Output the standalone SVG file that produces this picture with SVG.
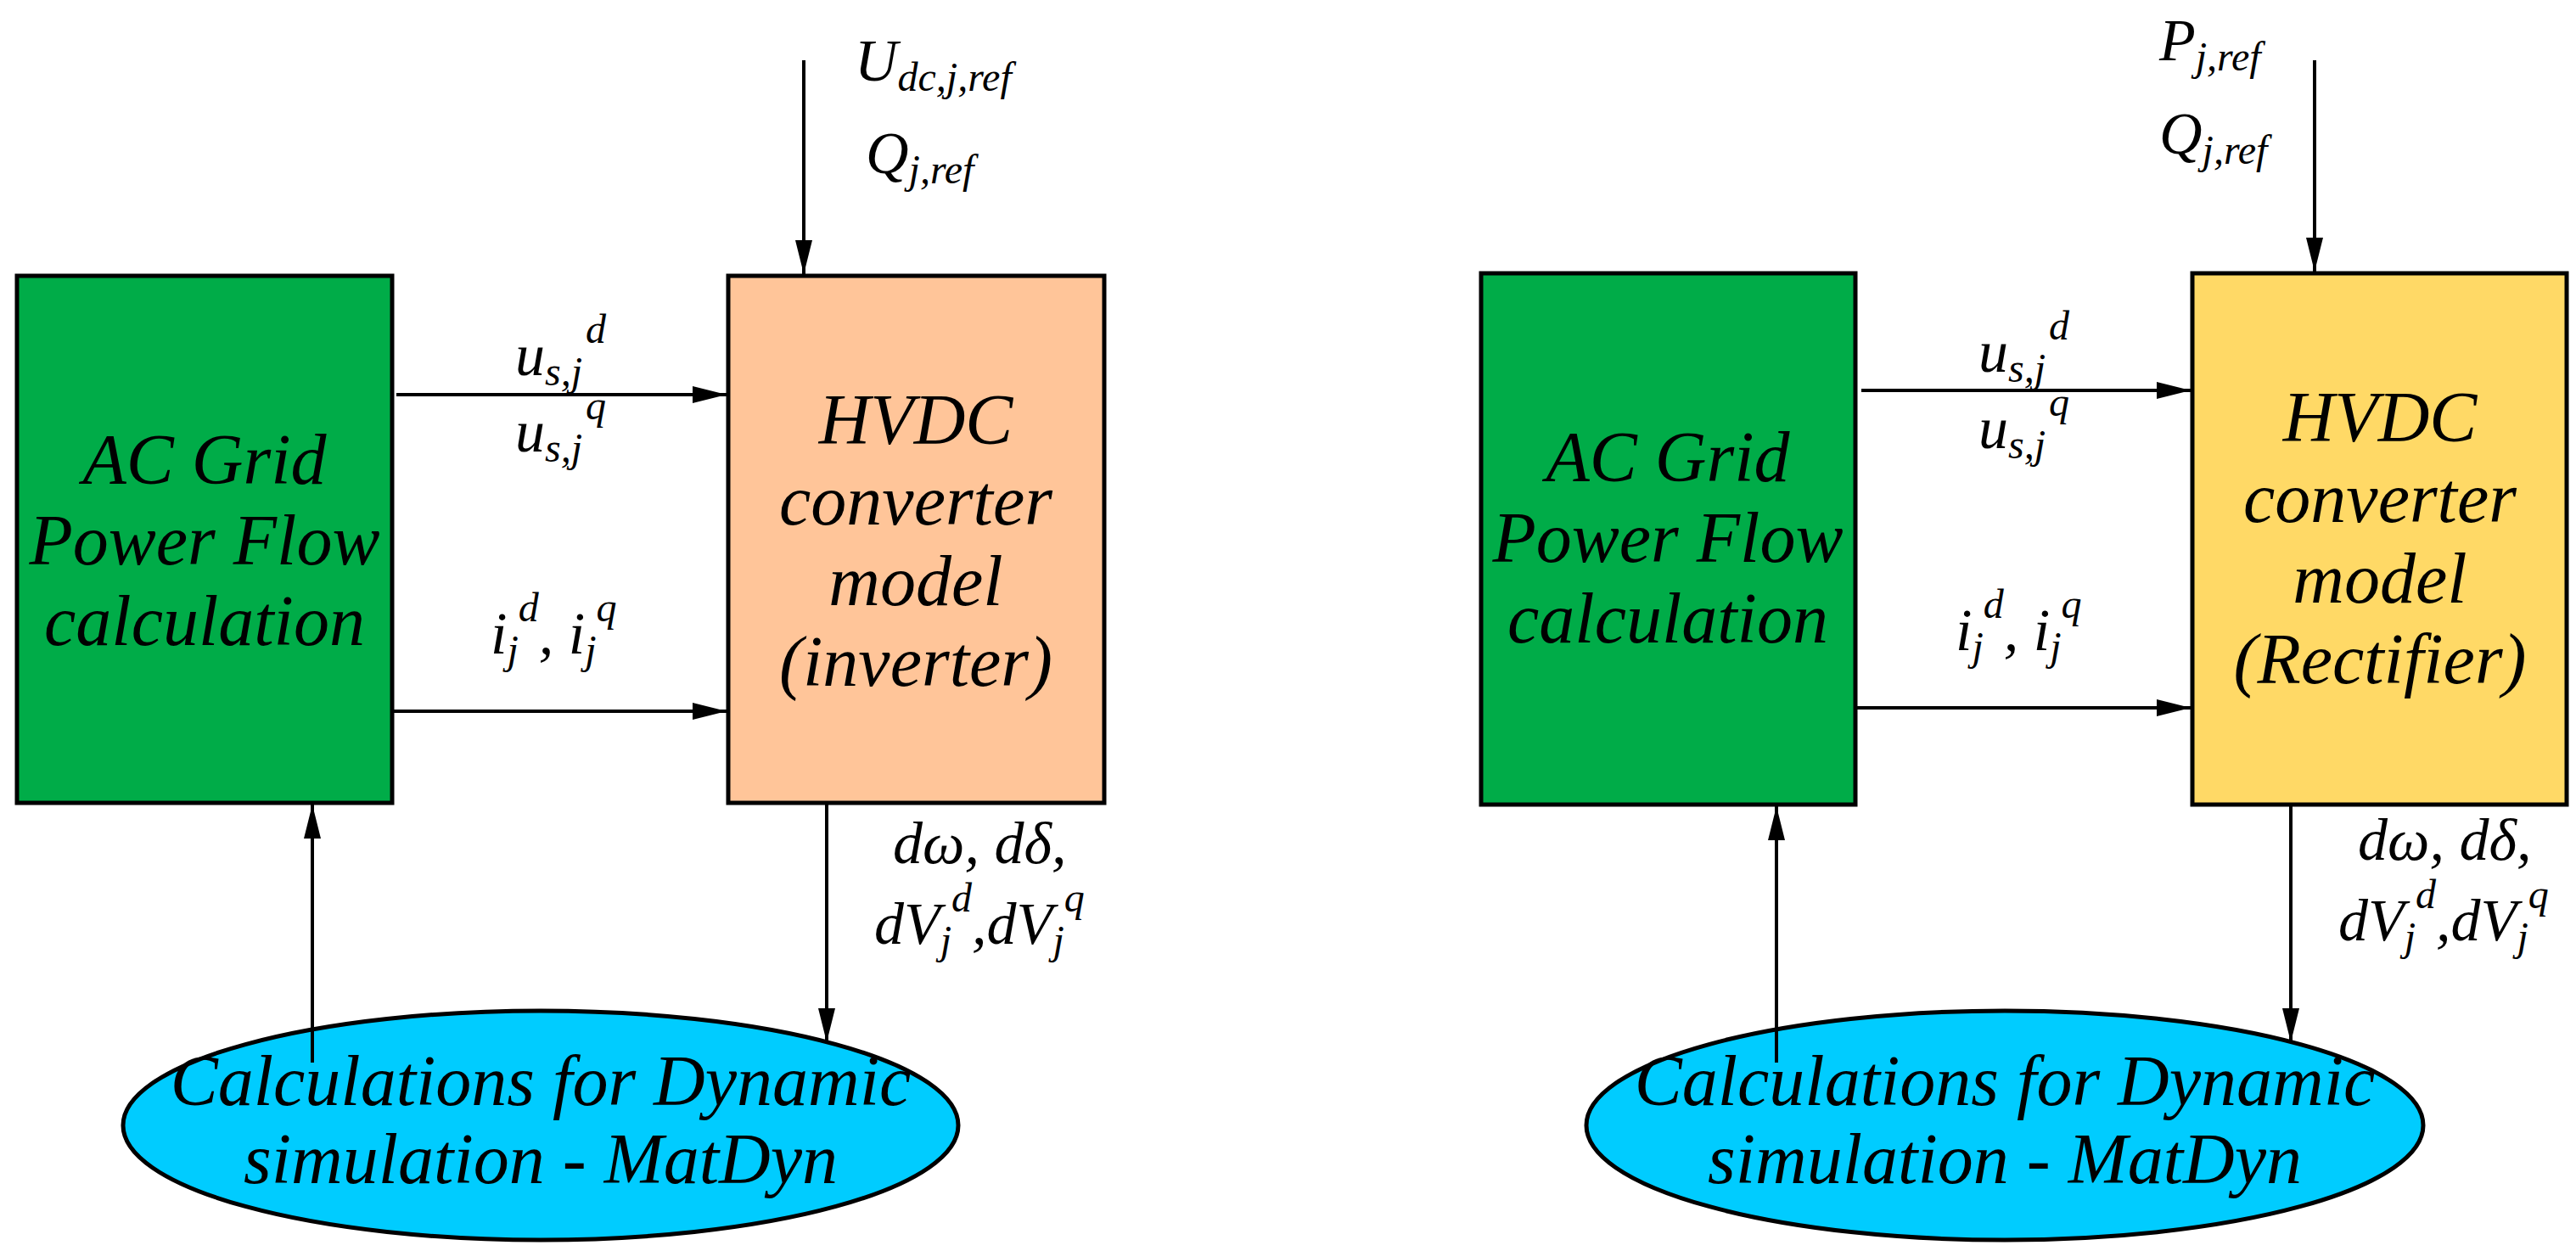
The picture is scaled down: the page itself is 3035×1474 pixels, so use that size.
<svg xmlns="http://www.w3.org/2000/svg" width="3035" height="1474" viewBox="0 0 3035 1474">
<style>
text{font-family:"Liberation Serif","Times New Roman",serif;font-style:italic;fill:#000}
.big{font-size:84px}
.lbl{font-size:70px}
.sub{font-size:48px}
.box{stroke:#000;stroke-width:5}
.ln{stroke:#000;stroke-width:4;fill:none}
</style>
<defs>
<marker id="ah" viewBox="0 0 40 20" refX="40" refY="10" markerWidth="40" markerHeight="20" markerUnits="userSpaceOnUse" orient="auto"><path d="M0,0L40,10L0,20z" fill="#000"/></marker>
</defs>
<g id="acgrid1"><rect class="box" x="20" y="325" width="442" height="621" fill="#00AC48"/>
<text class="big" text-anchor="middle"><tspan x="241" y="570">AC Grid</tspan><tspan x="241" y="665">Power Flow</tspan><tspan x="241" y="760">calculation</tspan></text></g>
<g id="hvdc1"><rect class="box" x="858" y="325" width="443" height="621" fill="#FFC599"/>
<text class="big" text-anchor="middle"><tspan x="1079" y="523">HVDC</tspan><tspan x="1079" y="618">converter</tspan><tspan x="1079" y="713">model</tspan><tspan x="1079" y="808">(inverter)</tspan></text></g>
<g id="dyn1"><ellipse class="box" cx="637" cy="1326" rx="492" ry="135" fill="#00CCFF"/>
<text class="big" text-anchor="middle"><tspan x="637" y="1302">Calculations for Dynamic</tspan><tspan x="637" y="1394">simulation - MatDyn</tspan></text></g>
<g id="acgrid2"><rect class="box" x="1745" y="322" width="441" height="626" fill="#00AC48"/>
<text class="big" text-anchor="middle"><tspan x="1965" y="567">AC Grid</tspan><tspan x="1965" y="662">Power Flow</tspan><tspan x="1965" y="757">calculation</tspan></text></g>
<g id="hvdc2"><rect class="box" x="2583" y="322" width="441" height="626" fill="#FFD966"/>
<text class="big" text-anchor="middle"><tspan x="2804" y="520">HVDC</tspan><tspan x="2804" y="615">converter</tspan><tspan x="2804" y="710">model</tspan><tspan x="2804" y="805">(Rectifier)</tspan></text></g>
<g id="dyn2"><ellipse class="box" cx="2362" cy="1326" rx="493" ry="135" fill="#00CCFF"/>
<text class="big" text-anchor="middle"><tspan x="2362" y="1302">Calculations for Dynamic</tspan><tspan x="2362" y="1394">simulation - MatDyn</tspan></text></g>
<g id="connectors">
<line class="ln" x1="947" y1="71" x2="947" y2="323" marker-end="url(#ah)"/>
<line class="ln" x1="467" y1="465" x2="856" y2="465" marker-end="url(#ah)"/>
<line class="ln" x1="462" y1="838" x2="856" y2="838" marker-end="url(#ah)"/>
<line class="ln" x1="368" y1="1252" x2="368" y2="948" marker-end="url(#ah)"/>
<line class="ln" x1="974" y1="946" x2="974" y2="1228" marker-end="url(#ah)"/>
<line class="ln" x1="2727" y1="71" x2="2727" y2="320" marker-end="url(#ah)"/>
<line class="ln" x1="2193" y1="460" x2="2581" y2="460" marker-end="url(#ah)"/>
<line class="ln" x1="2186" y1="834" x2="2581" y2="834" marker-end="url(#ah)"/>
<line class="ln" x1="2093" y1="1252" x2="2093" y2="950" marker-end="url(#ah)"/>
<line class="ln" x1="2699" y1="948" x2="2699" y2="1228" marker-end="url(#ah)"/>
</g>
<g id="labels">
<text class="lbl" x="1007" y="95">U<tspan class="sub" dy="12">dc,j,ref</tspan></text>
<text class="lbl" x="1020" y="204">Q<tspan class="sub" dy="12">j,ref</tspan></text>
<text class="lbl" x="607" y="442">u<tspan class="sub" dy="12">s,j</tspan><tspan class="sub" dy="-50" dx="4">d</tspan></text>
<text class="lbl" x="607" y="532">u<tspan class="sub" dy="12">s,j</tspan><tspan class="sub" dy="-50" dx="4">q</tspan></text>
<text class="lbl" x="578" y="770">i<tspan class="sub" dy="12">j</tspan><tspan class="sub" dy="-50">d</tspan><tspan dy="38">, i</tspan><tspan class="sub" dy="12">j</tspan><tspan class="sub" dy="-50">q</tspan></text>
<text class="lbl" x="1052" y="1017">dω, dδ,</text>
<text class="lbl" x="1030" y="1112">dV<tspan class="sub" dy="12">j</tspan><tspan class="sub" dy="-50">d</tspan><tspan dy="38">,dV</tspan><tspan class="sub" dy="12">j</tspan><tspan class="sub" dy="-50">q</tspan></text>
<text class="lbl" x="2544" y="71">P<tspan class="sub" dy="12">j,ref</tspan></text>
<text class="lbl" x="2544" y="181">Q<tspan class="sub" dy="12">j,ref</tspan></text>
<text class="lbl" x="2331" y="438">u<tspan class="sub" dy="12">s,j</tspan><tspan class="sub" dy="-50" dx="4">d</tspan></text>
<text class="lbl" x="2331" y="528">u<tspan class="sub" dy="12">s,j</tspan><tspan class="sub" dy="-50" dx="4">q</tspan></text>
<text class="lbl" x="2304" y="766">i<tspan class="sub" dy="12">j</tspan><tspan class="sub" dy="-50">d</tspan><tspan dy="38">, i</tspan><tspan class="sub" dy="12">j</tspan><tspan class="sub" dy="-50">q</tspan></text>
<text class="lbl" x="2778" y="1013">dω, dδ,</text>
<text class="lbl" x="2755" y="1108">dV<tspan class="sub" dy="12">j</tspan><tspan class="sub" dy="-50">d</tspan><tspan dy="38">,dV</tspan><tspan class="sub" dy="12">j</tspan><tspan class="sub" dy="-50">q</tspan></text>
</g>
</svg>
